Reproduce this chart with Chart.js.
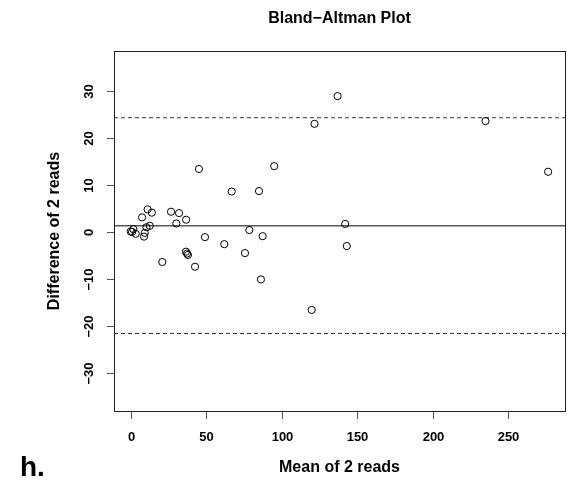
<!DOCTYPE html>
<html lang="en">
<head>
<meta charset="UTF-8">
<title>Bland-Altman Plot</title>
<script src="https://cdn.jsdelivr.net/npm/chart.js"></script>
<style>
  body { margin: 0; background: #fff; }
  #chart { display: block; }
</style>
</head>
<body>
<canvas id="chart" width="586" height="481"></canvas>
<script>
// mean of the two reads (x) and their difference (y)
const meanReads = [0, 0.9, 1.7, 3.3, 7.5, 8.8, 9.3, 10.4, 11.2, 12.6, 14.0, 20.9, 26.7, 30.2, 32.0,
  36.7, 36.6, 37.3, 37.9, 42.6, 45.2, 49.2, 62.0, 66.9, 75.7, 78.6, 85.0, 86.3, 87.4, 95.1,
  119.9, 121.8, 137.1, 142.1, 143.2, 235.1, 276.6];
const diffReads = [0.1, 0.0, 0.6, -0.4, 3.1, -1.0, -0.2, 1.0, 4.8, 1.3, 4.1, -6.4, 4.3, 1.8, 4.0,
  2.6, -4.2, -4.6, -4.9, -7.4, 13.4, -1.1, -2.6, 8.6, -4.5, 0.4, 8.7, -10.1, -0.9, 14.0,
  -16.6, 23.0, 28.9, 1.7, -3.0, 23.6, 12.8];

const xTicks = [0, 50, 100, 150, 200, 250];
const yTicks = [-30, -20, -10, 0, 10, 20, 30];

const meanDiff = 1.3;
const upperLimit = 24.3;
const lowerLimit = -21.6;

const xRange = [-11.1, 287.8];
const yRange = [-38.1, 38.5];

const points = meanReads.map((m, i) => ({ x: m, y: diffReads[i] }));

function hLine(v) {
  return [{ x: xRange[0], y: v }, { x: xRange[1], y: v }];
}

function fmt(v) {
  return v < 0 ? '\u2212' + Math.abs(v) : String(v);
}

// R style box, ticks and labels
const baseAxes = {
  id: 'baseAxes',
  afterDraw(chart) {
    const ctx = chart.ctx;
    const a = chart.chartArea;
    const xs = chart.scales.x;
    const ys = chart.scales.y;
    ctx.save();
    ctx.strokeStyle = '#222';
    ctx.lineWidth = 1;
    ctx.strokeRect(a.left + 0.5, a.top + 0.5, a.right - a.left, a.bottom - a.top);

    ctx.fillStyle = '#000';
    ctx.font = 'bold 13px "Liberation Sans", Arial, sans-serif';
    ctx.textAlign = 'center';
    ctx.textBaseline = 'middle';
    ctx.strokeStyle = '#555';
    xTicks.forEach(t => {
      const px = Math.round(xs.getPixelForValue(t)) + 0.5;
      ctx.beginPath();
      ctx.moveTo(px, a.bottom + 1);
      ctx.lineTo(px, a.bottom + 8);
      ctx.stroke();
      ctx.fillText(fmt(t), px, a.bottom + 26);
    });
    yTicks.forEach(t => {
      const py = Math.round(ys.getPixelForValue(t)) + 0.5;
      ctx.beginPath();
      ctx.moveTo(a.left, py);
      ctx.lineTo(a.left - 7, py);
      ctx.stroke();
      ctx.save();
      ctx.translate(a.left - 25, py);
      ctx.rotate(-Math.PI / 2);
      ctx.fillText(fmt(t), 0, 0);
      ctx.restore();
    });

    ctx.font = 'bold 16px "Liberation Sans", Arial, sans-serif';
    const cx = (a.left + a.right) / 2;
    ctx.fillText('Bland\u2212Altman Plot', cx, 19);
    ctx.fillText('Mean of 2 reads', cx, 468);
    ctx.save();
    ctx.translate(55, (a.top + a.bottom) / 2);
    ctx.rotate(-Math.PI / 2);
    ctx.fillText('Difference of 2 reads', 0, 0);
    ctx.restore();

    ctx.font = 'bold 28px "Liberation Sans", Arial, sans-serif';
    ctx.textAlign = 'left';
    ctx.textBaseline = 'alphabetic';
    ctx.fillText('h.', 20, 476);
    ctx.restore();
  }
};

new Chart(document.getElementById('chart'), {
  type: 'scatter',
  data: {
    datasets: [
      {
        data: points,
        pointStyle: 'circle',
        pointRadius: 3.6,
        pointHoverRadius: 3.6,
        borderWidth: 1,
        borderColor: '#000',
        backgroundColor: 'rgba(0,0,0,0)'
      },
      {
        type: 'line',
        data: hLine(meanDiff),
        borderColor: '#000',
        borderWidth: 1,
        pointRadius: 0
      },
      {
        type: 'line',
        data: hLine(upperLimit),
        borderColor: '#333',
        borderWidth: 1,
        borderDash: [4, 3],
        pointRadius: 0
      },
      {
        type: 'line',
        data: hLine(lowerLimit),
        borderColor: '#333',
        borderWidth: 1,
        borderDash: [4, 3],
        pointRadius: 0
      }
    ]
  },
  options: {
    responsive: false,
    animation: false,
    devicePixelRatio: 1,
    layout: { padding: { left: 114, right: 21, top: 51, bottom: 70 } },
    plugins: {
      legend: { display: false },
      tooltip: { enabled: false }
    },
    scales: {
      x: { type: 'linear', display: false, min: xRange[0], max: xRange[1] },
      y: { type: 'linear', display: false, min: yRange[0], max: yRange[1] }
    }
  },
  plugins: [baseAxes]
});
</script>
</body>
</html>
